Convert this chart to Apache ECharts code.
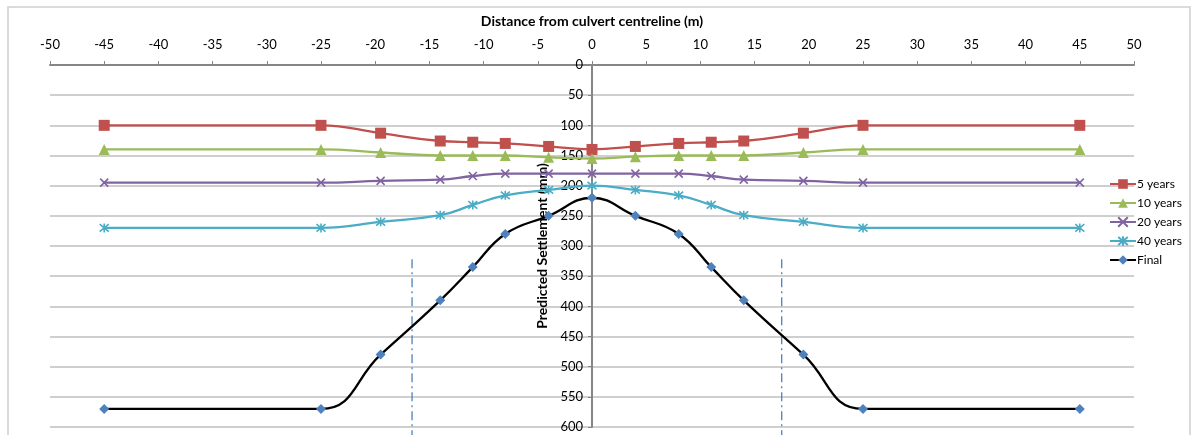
<!DOCTYPE html>
<html><head><meta charset="utf-8">
<script src="https://cdn.jsdelivr.net/npm/echarts@6/dist/echarts.min.js"></script>
<style>html,body{margin:0;padding:0;background:#fff}#c{width:1197px;height:435px}</style>
</head><body><div id="c"></div>
<script>
const distances = [-45, -25, -19.5, -14, -11, -8, -4, 0, 4, 8, 11, 14, 19.5, 25, 45];
const years5  = [100, 100, 113, 126, 128, 130, 135, 140, 135, 130, 128, 126, 113, 100, 100];
const years10 = [140, 140, 145, 150, 150, 150, 153, 155, 152, 150, 150, 150, 145, 140, 140];
const years20 = [195, 195, 192, 190, 184, 180, 180, 180, 180, 180, 184, 190, 192, 195, 195];
const years40 = [270, 270, 260, 249, 232, 216, 207, 200, 207, 216, 232, 249, 260, 270, 270];
const finalS  = [570, 570, 480, 390, 335, 280, 250, 220, 250, 280, 335, 390, 480, 570, 570];
const leftMarker = [[-16.6, 322], [-16.6, 616]];
const rightMarker = [[17.5, 322], [17.5, 616]];
const seriesNames = ['5 years', '10 years', '20 years', '40 years', 'Final'];

const pair = arr => distances.map((d, i) => [d, arr[i]]);
const FONT = 'Lato';
const chart = echarts.init(document.getElementById('c'));
const X = 'path://M0,0L10,10M10,0L0,10';
const AST = 'path://M0,0L10,10M10,0L0,10M5,-1L5,11';
const GL = 50, GR = 63, W = 1197 - GL - GR;
function ser(name, data, color, symbol, size, lineColor, stroke) {
  return {
    name, type: 'line', data: pair(data), smooth: 0.45,
    symbol, symbolSize: size,
    lineStyle: { color: lineColor || color, width: 2.3 },
    itemStyle: stroke ? { color: color, borderColor: color, borderWidth: 1.6 } : { color: color },
    z: 5
  };
}
chart.setOption({
  animation: false,
  textStyle: { fontFamily: FONT },
  graphic: [{ type: 'rect', shape: { x: 8, y: 7, width: 1182, height: 440 }, style: { fill: 'none', stroke: '#d0d0d0', lineWidth: 1.5 }, silent: true }],
  grid: { left: GL, right: GR, top: 65, bottom: 8, outerBoundsMode: 'none', containLabel: false },
  legend: {
    orient: 'vertical', left: 1104, top: 173, itemGap: 7, itemWidth: 26, itemHeight: 12,
    data: seriesNames,
    textStyle: { fontFamily: FONT, fontSize: 12, color: '#000', padding: [0, 0, 0, -4] }
  },
  xAxis: {
    type: 'value', position: 'top', min: -50, max: 50, interval: 5,
    name: 'Distance from culvert centreline (m)', nameLocation: 'middle', nameGap: 37,
    nameTextStyle: { fontFamily: FONT, fontSize: 14, fontWeight: 'bold', color: '#000' },
    axisLine: { onZero: false, lineStyle: { color: '#868686', width: 2 } },
    axisTick: { show: true, length: 4, lineStyle: { color: '#868686' } },
    axisLabel: { fontFamily: FONT, fontSize: 13, color: '#000', margin: 14 },
    splitLine: { show: false }
  },
  yAxis: {
    type: 'value', inverse: true, min: 0, max: 600, interval: 50,
    position: 'left', offset: -W / 2,
    name: 'Predicted Settlement (mm)', nameLocation: 'middle', nameGap: 40, nameRotate: 90,
    nameTextStyle: { fontFamily: FONT, fontSize: 14, fontWeight: 'bold', color: '#000' },
    axisLine: { onZero: false, lineStyle: { color: '#868686', width: 2 } },
    axisTick: { show: true, length: 4, inside: false, lineStyle: { color: '#868686' } },
    axisLabel: { fontFamily: FONT, fontSize: 13, color: '#000', margin: 9 },
    splitLine: { show: true, lineStyle: { color: '#bfbfbf', width: 1.5 } }
  },
  series: [
    ser('5 years', years5, '#C0504D', 'rect', 11),
    ser('10 years', years10, '#9BBB59', 'triangle', 11),
    ser('20 years', years20, '#8064A2', X, 8, null, true),
    ser('40 years', years40, '#4BACC6', AST, 9, null, true),
    ser('Final', finalS, '#4F81BD', 'diamond', 10, '#000000'),
    { type: 'line', data: leftMarker, symbol: 'none', clip: false, silent: true,
      lineStyle: { color: '#4F81BD', width: 1.3, type: [9, 4, 2, 4] }, z: 2 },
    { type: 'line', data: rightMarker, symbol: 'none', clip: false, silent: true,
      lineStyle: { color: '#4F81BD', width: 1.3, type: [9, 4, 2, 4] }, z: 2 }
  ]
});
</script></body></html>
